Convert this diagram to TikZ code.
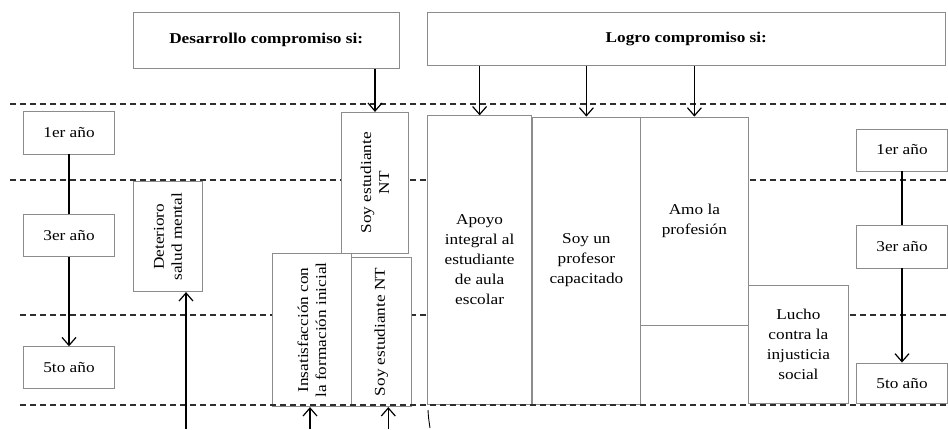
\documentclass[tikz,border=0pt]{standalone}
\usepackage{fontspec}
\setmainfont{Liberation Serif}[FakeStretch=1.15]
\usetikzlibrary{arrows.meta}
\definecolor{boxgray}{HTML}{8C8C8C}
\definecolor{dashgray}{HTML}{2E2E2E}
\newcommand{\txt}{\fontsize{15}{20}\selectfont}
\newcommand{\rtxt}{\fontsize{15}{18}\selectfont}
\begin{document}
\begin{tikzpicture}[x=1pt,y=-1pt,
  box/.style={draw=boxgray, line width=0.8pt, fill=white, inner sep=0pt, align=center, font=\txt},
  rbox/.style={box, rotate=90, font=\rtxt},
  dline/.style={draw=dashgray, line width=1.4pt, dash pattern=on 6pt off 4pt},
  conn/.style={draw=black, line width=1.3pt},
  arr/.style={conn, -{Straight Barb[length=8pt,width=14pt,line width=1.2pt]}}]
\useasboundingbox (0,0) rectangle (948,429);
% dashed bands
\draw[dline] (10,104) -- (948,104);
\draw[dline] (10,180) -- (948,180);
\draw[dline] (20,315) -- (948,315);
% headers
\node[box, minimum width=265.7pt, minimum height=56pt, font=\txt\bfseries] (des) at (266.2,40.3) {Desarrollo compromiso si:};
\node[box, minimum width=517.3pt, minimum height=53pt, font=\txt\bfseries] (logro) at (686.3,38.8) {Logro compromiso si:};
% left years
\node[box, minimum width=91.5pt, minimum height=42.3pt] (ly1) at (69,132.8) {1er año};
\node[box, minimum width=91.5pt, minimum height=42.7pt] (ly3) at (69,235.3) {3er año};
\node[box, minimum width=91.5pt, minimum height=41.6pt] (ly5) at (69,367.5) {5to año};
% right years
\node[box, minimum width=91pt, minimum height=42pt] (ry1) at (902,150) {1er año};
\node[box, minimum width=91pt, minimum height=43pt] (ry3) at (902,246.5) {3er año};
\node[box, minimum width=91pt, minimum height=40.5pt] (ry5) at (902,383.2) {5to año};
% rotated boxes
\node[rbox, minimum width=110pt, minimum height=69.4pt] (det) at (168,236.7) {Deterioro\\salud mental};
\node[rbox, minimum width=141pt, minimum height=66.6pt] (snt1) at (375,182.8) {Soy estudiante\\NT};
\node[rbox, minimum width=153.4pt, minimum height=78.3pt] (ins) at (311.8,330) {Insatisfacción con\\la formación inicial};
\node[rbox, minimum width=149.4pt, minimum height=60.7pt] (snt2) at (381.3,332) {Soy estudiante NT};
% logro boxes
\node[box, minimum width=104.2pt, minimum height=288.3pt] (apoyo) at (479.6,259.9) {Apoyo\\integral al\\estudiante\\de aula\\escolar};
\node[box, minimum width=108.7pt, minimum height=287pt] (prof) at (586.4,260.5) {Soy un\\profesor\\capacitado};
\node[box, minimum width=107.3pt, minimum height=208pt] (amo) at (694.4,221) {Amo la\\profesión};
\node[box, minimum width=100.7pt, minimum height=118pt] (lucho) at (798.4,344) {Lucho\\contra la\\injusticia\\social};
\draw[dline] (20,405) -- (948,405);
% connectors
\draw[conn] (ly1) -- (ly3);
\draw[arr] (ly3) -- (ly5);
\draw[conn] (ry1) -- (ry3);
\draw[arr] (ry3) -- (ry5);
\draw[arr] (des.south -| snt1.east) -- (snt1.east);
\draw[arr] (logro.south -| apoyo.north) -- (apoyo.north);
\draw[arr] (logro.south -| prof.north) -- (prof.north);
\draw[arr] (logro.south -| amo.north) -- (amo.north);
\coordinate (u1) at (186,429);
\coordinate (u2) at (310,429);
\coordinate (u3) at (388.3,429);
\coordinate (s1) at (428,410);
\coordinate (s2) at (430,428);
\draw[arr] (u1) -- (u1 |- det.west);
\draw[arr] (u2) -- (u2 |- ins.west);
\draw[arr] (u3) -- (u3 |- snt2.west);
\draw[conn, line width=0.9pt] (s1) .. controls (428.5,418) .. (s2);
\end{tikzpicture}
\end{document}
